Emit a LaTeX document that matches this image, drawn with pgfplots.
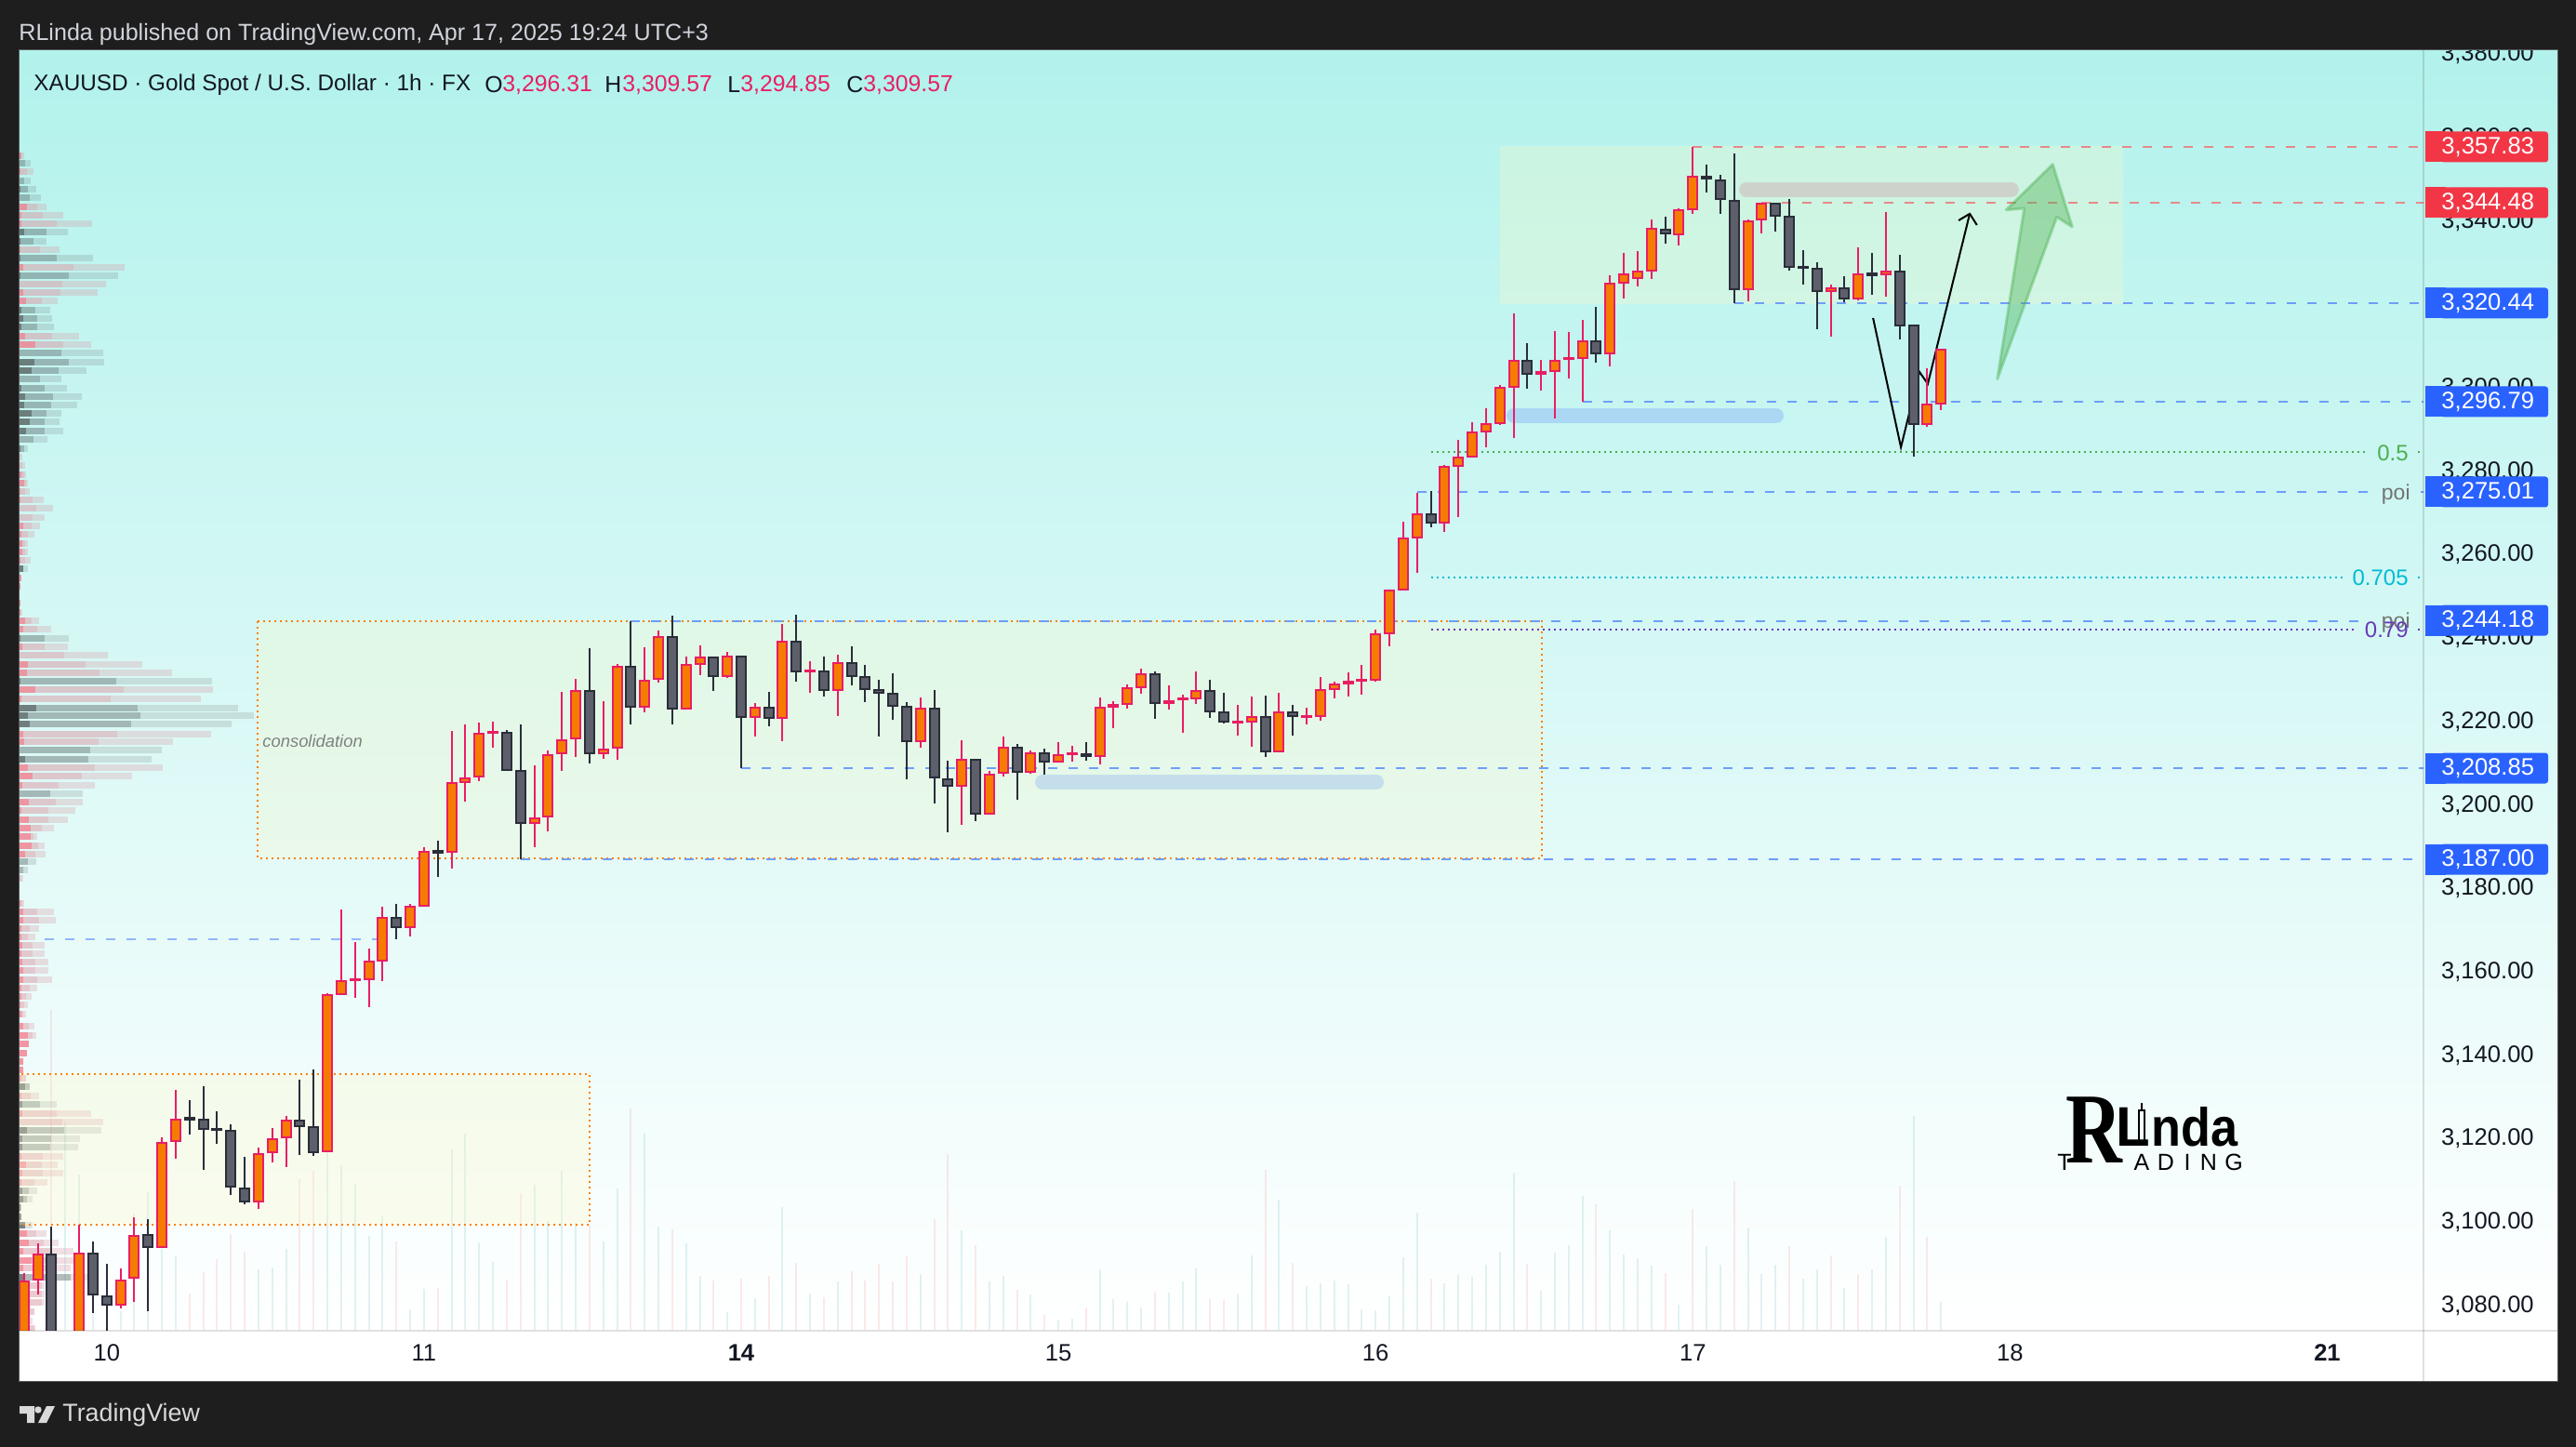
\documentclass[border=0pt]{standalone}
\usepackage{fontspec}
\setmainfont{Liberation Sans}
\newfontfamily\serifR{Liberation Serif}
\usepackage{pgfplots}
\usepackage{pgfplotstable}
\pgfplotsset{compat=1.18}
\definecolor{dark}{HTML}{1E1E1E}
\definecolor{cpink}{HTML}{E91E63}
\definecolor{corange}{HTML}{F57C00}
\definecolor{cgrey}{HTML}{5D606B}
\definecolor{cblack}{HTML}{2A2E39}
\definecolor{tvblue}{HTML}{2962FF}
\definecolor{tvred}{HTML}{F23645}
\definecolor{lblue}{HTML}{6E9EF8}
\definecolor{lred}{HTML}{E58A8A}
\definecolor{txt}{HTML}{131722}
\definecolor{fgreen}{HTML}{4CAF50}
\definecolor{fcyan}{HTML}{00BCD4}
\definecolor{fpurple}{HTML}{673AB7}
\definecolor{prA}{RGB}{255,100,120}
\definecolor{prB}{RGB}{219,154,165}
\definecolor{ptA}{RGB}{65,72,69}
\definecolor{ptB}{RGB}{88,107,108}
\definecolor{ptC}{RGB}{103,105,105}
\newcommand\candle[7]{\pgfmathsetmacro\xa{#1-.337}\pgfmathsetmacro\xb{#1+.337}%
 \addplot[draw=#6,line width=1pt] coordinates {(#1,#4)(#1,#5)};
 \addplot[draw=#6,fill=#7,line width=1pt] coordinates {(\xa,#2)(\xb,#2)(\xb,#3)(\xa,#3)} -- cycle;}
\newcommand\cu[5]{\candle{#1}{#2}{#3}{#4}{#5}{cpink}{corange}}
\newcommand\cd[5]{\candle{#1}{#2}{#3}{#4}{#5}{cblack}{cgrey}}
\pgfplotsset{pane/.style={width=1293pt,height=688pt,scale only axis,at={(10pt,-715pt)},anchor=south west}}
% volume profile: row position (px), widths of the three layers (px)
\pgfplotstableread{
y a b c
167 3 3 6
184 2 9 16
222 9 20 30
231 3 26 48
240 3 41 79
268 2 23 44
287 5 59 114
305 1 47 94
314 5 45 85
323 8 25 42
361 7 36 65
370 18 48 78
491 1 2 4
500 1 4 7
510 3 6 8
519 6 8 10
528 2 7 12
537 2 15 27
546 1 19 37
556 1 15 28
565 5 14 23
574 3 10 17
584 4 7 10
593 4 7 10
602 2 7 13
621 3 3 3
630 2 2 2
639 1 1 1
648 2 2 2
658 2 2 4
667 7 14 22
676 5 20 35
695 4 28 53
704 1 49 96
714 10 72 133
723 9 87 165
741 18 113 209
751 3 99 196
789 5 106 207
797 6 86 166
825 10 82 155
834 15 68 122
844 4 43 82
862 11 40 69
871 3 32 61
881 11 32 53
890 13 25 38
899 13 16 20
909 14 21 28
918 7 18 29
944 1 3 5
971 2 4 6
980 5 20 38
989 5 22 40
998 3 12 22
1007 3 10 18
1016 4 15 28
1025 3 15 28
1034 4 18 32
1043 5 18 32
1053 5 20 36
1062 3 12 20
1071 3 8 14
1080 2 6 10
1090 3 5 8
1103 5 11 17
1113 10 15 19
1122 11 11 11
1132 9 9 9
1141 5 5 5
1150 5 5 5
1159 3 8 8
1178 3 13 22
1197 4 41 78
1206 1 47 91
1243 3 26 48
1252 8 25 42
1261 4 26 48
1271 3 17 31
1326 9 19 30
1336 11 27 43
1345 5 34 59
1355 14 42 62
1363 5 41 56
1382 11 25 28
1391 10 25 28
1400 10 25 28
1410 8 17 17
1420 5 10 15
1428 10 17 18
}\profred
\pgfplotstableread{
y a b c
175 0 7 13
194 0 6 13
203 2 10 19
212 0 12 24
249 6 30 53
259 2 16 30
277 2 41 80
296 2 54 107
333 3 18 34
342 5 20 36
351 3 20 38
379 1 46 91
389 17 54 92
398 14 43 73
407 1 23 46
417 3 28 52
426 7 37 68
435 6 35 63
444 14 30 46
453 12 28 44
463 8 28 48
472 1 16 31
482 2 6 10
611 5 5 10
686 2 28 54
732 2 105 208
761 19 128 236
769 10 131 253
778 12 121 229
806 1 77 154
816 7 75 143
853 1 34 69
926 1 10 19
935 1 5 10
1168 7 12 12
1187 4 23 41
1215 9 49 89
1224 4 35 66
1233 4 34 64
1280 4 11 20
1289 5 9 15
1298 2 3 3
1308 3 3 3
1317 7 7 15
1373 5 56 77
}\profteal
% volume bars: bar index, height (px of pane)
\pgfplotstableread{
i v
-4 344
0 30
6 39
7 62
8 76
9 103
10 84
14 162
15 171
21 95
24 45
29 54
30 147
35 113
38 238
41 108
44 53
46 55
48 58
50 72
52 35
54 63
55 53
56 71
57 52
58 79
60 119
61 189
63 91
66 43
68 16
71 24
76 40
80 33
81 32
84 172
86 72
96 55
103 71
108 135
113 61
115 130
118 160
122 90
125 80
127 60
130 155
132 100
}\volred
\pgfplotstableread{
i v
-3 224
-2 167
-1 17
1 20
2 125
3 148
4 87
5 80
11 65
12 67
13 87
16 193
17 177
18 157
19 101
20 123
22 22
23 44
25 194
26 211
27 94
28 73
31 156
32 117
33 171
34 115
36 95
37 152
39 211
40 111
42 93
43 58
45 19
47 34
49 132
51 39
53 52
59 60
62 107
64 52
65 58
67 38
69 11
70 12
72 65
73 33
74 30
75 24
77 40
78 52
79 66
82 39
83 80
85 140
87 47
88 50
89 53
90 49
91 22
92 21
93 36
94 78
95 126
97 50
98 59
99 57
100 70
101 84
102 169
104 42
105 83
106 91
107 144
109 107
110 81
111 77
112 69
114 27
116 90
117 70
119 110
120 60
121 70
123 55
124 65
126 45
128 65
129 100
131 230
133 30
}\volteal
\begin{document}
\begin{tikzpicture}
\useasboundingbox (0pt,0pt) rectangle (1385pt,-778pt);
\fill[dark] (0pt,0pt) rectangle (1385pt,-778pt);
\shade[top color={rgb,255:red,178;green,242;blue,236},bottom color=white] (10pt,-27pt) rectangle (1375pt,-715pt);
\fill[white] (10pt,-715pt) rectangle (1375pt,-742.5pt);
% volume
\begin{axis}[pane,hide axis,clip=true,xmin=-6.392,xmax=167.98,ymin=0,ymax=1376]
\addplot[ycomb,draw=tvred,opacity=.11,line width=1pt] table[x=i,y=v]{\volred};
\addplot[ycomb,draw=teal,opacity=.11,line width=1pt] table[x=i,y=v]{\volteal};
\end{axis}
% volume profile
\begin{axis}[pane,hide axis,clip=true,xmin=0,xmax=2586,ymin=54,ymax=1430,y dir=reverse]
\addplot[xcomb,draw=prB,opacity=.3,line width=3.5pt] table[x=c,y=y]{\profred};
\addplot[xcomb,draw=prB,opacity=.3,line width=3.5pt] table[x=b,y=y]{\profred};
\addplot[xcomb,draw=prA,opacity=.5,line width=3.5pt] table[x=a,y=y]{\profred};
\addplot[xcomb,draw=ptC,opacity=.18,line width=3.5pt] table[x=c,y=y]{\profteal};
\addplot[xcomb,draw=ptB,opacity=.33,line width=3.5pt] table[x=b,y=y]{\profteal};
\addplot[xcomb,draw=ptA,opacity=.5,line width=3.5pt] table[x=a,y=y]{\profteal};
\end{axis}
% price panel
\begin{axis}[pane,clip=true,
 xmin=-6.392,xmax=167.98,ymin=3074.16,ymax=3381.02,
 axis line style={draw=none},tick style={draw=none},major tick length=0pt,
 xtick={0,23,46,69,92,115,138,161},
 xticklabels={10,11,\textbf{14},15,16,17,18,\textbf{21}},
 xticklabel style={font=\fontsize{12.8pt}{14pt}\selectfont,text=txt,yshift=-4.5pt},
 ytick={3080,3100,...,3380},
 yticklabel pos=right,
 yticklabel style={font=\fontsize{12.8pt}{14pt}\selectfont,text=txt,xshift=6pt,
   /pgf/number format/.cd,fixed,fixed zerofill,precision=2,1000 sep={,},assume math mode=true},
]
% boxes
\addplot[fill={rgb,255:red,255;green,248;blue,197},fill opacity=.28,draw=none] coordinates {(101.02,3358)(146.2,3358)(146.2,3320.2)(101.02,3320.2)} -- cycle;
\addplot[fill={rgb,255:red,255;green,248;blue,197},fill opacity=.28,draw=orange,line width=1pt,dash pattern=on 1pt off 2pt] coordinates {(10.94,3244.1)(104.06,3244.1)(104.06,3187.2)(10.94,3187.2)} -- cycle;
\addplot[fill={rgb,255:red,255;green,248;blue,197},fill opacity=.28,draw=orange,line width=1pt,dash pattern=on 1pt off 2pt] coordinates {(-7,3135.49)(35,3135.49)(35,3099.35)(-7,3099.35)} -- cycle;
% level lines
\addplot[draw=lred,line width=1pt,dash pattern=on 5pt off 6pt] coordinates {(115,3357.83)(168,3357.83)};
\addplot[draw=lred,line width=1pt,dash pattern=on 5pt off 6pt] coordinates {(120,3344.48)(168,3344.48)};
\addplot[draw=lblue,line width=1pt,dash pattern=on 5pt off 6pt] coordinates {(118,3320.44)(168,3320.44)};
\addplot[draw=lblue,line width=1pt,dash pattern=on 5pt off 6pt] coordinates {(107,3296.79)(168,3296.79)};
\addplot[draw=lblue,line width=1pt,dash pattern=on 5pt off 6pt] coordinates {(95,3275.01)(164,3275.01)};
\addplot[draw=lblue,line width=1pt] coordinates {(167.8,3275.01)(168,3275.01)};
\addplot[draw=lblue,line width=1pt,dash pattern=on 5pt off 6pt] coordinates {(38,3244.18)(164,3244.18)};
\addplot[draw=lblue,line width=1pt,dash pattern=on 5pt off 6pt] coordinates {(46,3208.85)(168,3208.85)};
\addplot[draw=lblue,line width=1pt,dash pattern=on 5pt off 6pt] coordinates {(30,3187)(168,3187)};
\addplot[draw=lblue!75!white,line width=1pt,dash pattern=on 5pt off 6pt] coordinates {(-4.5,3167.8)(20,3167.8)};
\addplot[draw=fgreen,line width=1pt,dash pattern=on 1pt off 2pt] coordinates {(96,3284.68)(163.7,3284.68)};
\addplot[draw=fgreen,line width=1pt,dash pattern=on 1pt off 2pt] coordinates {(167.6,3284.68)(168,3284.68)};
\addplot[draw=fcyan,line width=1pt,dash pattern=on 1pt off 2pt] coordinates {(96,3254.57)(162.1,3254.57)};
\addplot[draw=fcyan,line width=1pt,dash pattern=on 1pt off 2pt] coordinates {(167.6,3254.57)(168,3254.57)};
\addplot[draw=fpurple,line width=1pt,dash pattern=on 1pt off 2pt] coordinates {(96,3242.09)(163,3242.09)};
\addplot[draw=fpurple,line width=1pt,dash pattern=on 1pt off 2pt] coordinates {(167.6,3242.09)(168,3242.09)};
% pills
\addplot[draw={rgb,255:red,205;green,211;blue,203},line width=8pt,line cap=round] coordinates {(118.9,3347.57)(138.1,3347.57)};
\addplot[draw={rgb,255:red,171;green,215;blue,245},line width=8pt,line cap=round] coordinates {(102.03,3293.38)(121.05,3293.38)};
\addplot[draw={rgb,255:red,196;green,223;blue,235},line width=8pt,line cap=round] coordinates {(67.85,3205.5)(92.06,3205.5)};
% drawn path
\addplot[draw=black,line width=1pt] coordinates {(128.07,3316.8)(130.09,3285.8)(131.43,3303.9)(132.04,3301)(135.08,3341.8)};
\addplot[draw=black,line width=1pt] coordinates {(134.27,3340.2)(135.08,3341.8)(135.6,3339.1)};
% candles: index, body low, body high, low, high
\cu{-6}{3070}{3085.8}{3068}{3087.8}
\cu{-5}{3086.2}{3092.2}{3082.6}{3094.9}
\cd{-4}{3070}{3092.2}{3068}{3099}
\cu{-2}{3070}{3092.5}{3068}{3099.4}
\cd{-1}{3082.7}{3092.5}{3078.2}{3095.4}
\cd{0}{3080.2}{3082.2}{3070}{3090}
\cu{1}{3080.2}{3086}{3079.3}{3088.9}
\cu{2}{3086.7}{3096.7}{3080.9}{3101.2}
\cd{3}{3094}{3097}{3078.6}{3100.7}
\cu{4}{3094}{3119}{3094}{3120.4}
\cu{5}{3119.5}{3124.6}{3115.2}{3131.7}
\cd{6}{3124.6}{3124.9}{3121}{3129.3}
\cd{7}{3122.4}{3124.6}{3112.6}{3132.6}
\cd{8}{3122.2}{3122.4}{3118.8}{3126.6}
\cd{9}{3108.5}{3121.9}{3106.5}{3123.5}
\cd{10}{3105}{3108.1}{3104.3}{3115.7}
\cu{11}{3105}{3116.3}{3103.2}{3117.9}
\cu{12}{3116.8}{3119.9}{3114.3}{3122.6}
\cu{13}{3120.4}{3124.4}{3113.2}{3125.5}
\cd{14}{3123}{3124.4}{3116.1}{3134.2}
\cd{15}{3116.8}{3122.8}{3115.9}{3136.6}
\cu{16}{3117}{3154.5}{3117}{3154.9}
\cu{17}{3154.7}{3157.8}{3154.7}{3175}
\cu{18}{3158}{3158.3}{3153.8}{3167.2}
\cu{19}{3158.3}{3162.5}{3151.6}{3165.6}
\cu{20}{3162.7}{3173}{3157.8}{3175.7}
\cd{21}{3170.8}{3173}{3167.9}{3176.3}
\cu{22}{3170.8}{3175.7}{3168.5}{3176.3}
\cu{23}{3175.9}{3188.8}{3175.9}{3189.9}
\cd{24}{3188.6}{3189}{3182.8}{3191.5}
\cu{25}{3188.8}{3205.3}{3184.8}{3217.8}
\cu{26}{3205.6}{3206.4}{3200.9}{3219.4}
\cu{27}{3206.9}{3217.2}{3205.8}{3219.8}
\cu{28}{3217.3}{3217.6}{3213.8}{3220}
\cd{29}{3208.4}{3217.4}{3208.4}{3218}
\cd{30}{3195.7}{3208.2}{3187}{3219.4}
\cu{31}{3195.7}{3196.9}{3189.9}{3209.5}
\cu{32}{3197.3}{3212}{3193.7}{3213.1}
\cu{33}{3212.5}{3215.6}{3208.2}{3227.2}
\cu{34}{3216}{3227.4}{3211.6}{3230.3}
\cd{35}{3212.5}{3227.4}{3210}{3237.7}
\cu{36}{3212.5}{3213.4}{3211.1}{3225}
\cu{37}{3213.8}{3233.2}{3210.9}{3233.9}
\cd{38}{3223.6}{3233.2}{3219.4}{3244.1}
\cu{39}{3223.6}{3229.9}{3222.3}{3237.9}
\cu{40}{3230.3}{3240.3}{3229.4}{3241.9}
\cd{41}{3223.2}{3240.3}{3219.4}{3245.5}
\cu{42}{3223.2}{3233.7}{3223.2}{3235.7}
\cu{43}{3233.9}{3235.4}{3231.2}{3238.3}
\cd{44}{3231}{3235.4}{3227.4}{3235.7}
\cu{45}{3231}{3235.7}{3230.5}{3236.8}
\cd{46}{3221.2}{3235.7}{3208.9}{3235.9}
\cu{47}{3221.2}{3223.4}{3216.5}{3224.5}
\cd{48}{3220.9}{3223.4}{3218.9}{3227.2}
\cu{49}{3220.9}{3239.2}{3215.4}{3243.5}
\cd{50}{3232.1}{3239.2}{3229.6}{3245.7}
\cu{51}{3232}{3232.3}{3227}{3234.5}
\cd{52}{3227.6}{3232.1}{3226.1}{3235.7}
\cu{53}{3227.6}{3234.1}{3221.4}{3236.1}
\cd{54}{3231}{3234.1}{3228.7}{3238.1}
\cd{55}{3227.9}{3230.8}{3224.7}{3233.7}
\cd{56}{3227}{3227.6}{3216.5}{3230.1}
\cd{57}{3223.8}{3226.7}{3220.5}{3231.6}
\cd{58}{3215.4}{3223.6}{3206.2}{3224.7}
\cu{59}{3215.4}{3223.2}{3213.8}{3225.8}
\cd{60}{3206.6}{3223.2}{3200.4}{3227.6}
\cd{61}{3204.6}{3206.2}{3193.5}{3210.7}
\cu{62}{3204.6}{3210.9}{3195.3}{3215.6}
\cd{63}{3198}{3210.9}{3196.2}{3211.1}
\cu{64}{3198}{3207.3}{3198}{3208.2}
\cu{65}{3207.8}{3213.8}{3206.9}{3216.5}
\cd{66}{3208}{3213.8}{3201.3}{3214.7}
\cu{67}{3208}{3212.5}{3207.5}{3213.1}
\cd{68}{3210.5}{3212.5}{3207.3}{3213.6}
\cu{69}{3210.5}{3212}{3210.5}{3215.1}
\cu{70}{3212.2}{3212.5}{3210.4}{3214.2}
\cd{71}{3211.8}{3212.2}{3210.7}{3215.1}
\cu{72}{3211.8}{3223.4}{3209.8}{3225.8}
\cu{73}{3223.6}{3224.1}{3218.5}{3225}
\cu{74}{3224.3}{3228.1}{3223.2}{3229}
\cu{75}{3228.3}{3231.4}{3226.7}{3232.8}
\cd{76}{3224.5}{3231.4}{3220.7}{3232.1}
\cu{77}{3224.5}{3225}{3223}{3228.7}
\cu{78}{3225.3}{3225.6}{3217.4}{3226.5}
\cu{79}{3225.6}{3227.4}{3224.3}{3232.1}
\cd{80}{3222.5}{3227.4}{3220.9}{3230.1}
\cd{81}{3220}{3222.3}{3219.6}{3226.9}
\cu{82}{3219.7}{3220}{3216.7}{3224.1}
\cu{83}{3220}{3221.2}{3214}{3226.1}
\cd{84}{3212.9}{3221.2}{3211.6}{3226.3}
\cu{85}{3212.9}{3222.3}{3212.9}{3226.9}
\cd{86}{3221.4}{3222.3}{3216.7}{3224.1}
\cu{87}{3221.1}{3221.4}{3219.4}{3223.4}
\cu{88}{3221.4}{3227.6}{3220.2}{3230.8}
\cu{89}{3227.9}{3229}{3225.6}{3229.6}
\cu{90}{3229.2}{3229.6}{3226.1}{3231.9}
\cu{91}{3229.8}{3230.1}{3226.5}{3233.7}
\cu{92}{3230.1}{3241}{3229.6}{3242.1}
\cu{93}{3241.2}{3251.5}{3238.1}{3251.7}
\cu{94}{3251.7}{3264}{3251.7}{3268}
\cu{95}{3264.2}{3269.8}{3255.7}{3274.9}
\cd{96}{3267.8}{3269.8}{3266.6}{3275.4}
\cu{97}{3267.8}{3281.2}{3265.5}{3281.6}
\cu{98}{3281.4}{3283.4}{3269.1}{3287.6}
\cu{99}{3283.6}{3289.4}{3283.6}{3291.9}
\cu{100}{3289.6}{3291.4}{3285.8}{3295.2}
\cu{101}{3291.6}{3300.1}{3291.2}{3300.8}
\cu{102}{3300.3}{3306.6}{3288.1}{3317.9}
\cd{103}{3303.4}{3306.6}{3299.9}{3310.8}
\cu{104}{3303.4}{3303.9}{3299.4}{3306.8}
\cu{105}{3304.1}{3306.6}{3292.7}{3313.7}
\cu{106}{3306.9}{3307.2}{3302.3}{3313.5}
\cu{107}{3307.2}{3311.2}{3296.8}{3316.4}
\cd{108}{3308.4}{3311.2}{3306.1}{3319.5}
\cu{109}{3308.4}{3325.1}{3305.2}{3327.1}
\cu{110}{3325.3}{3327.3}{3321.5}{3332.4}
\cu{111}{3326.4}{3328}{3324.4}{3332.9}
\cu{112}{3328.2}{3338.2}{3326.2}{3340.5}
\cd{113}{3337.1}{3338}{3334.7}{3341.1}
\cu{114}{3336.9}{3342.7}{3334.2}{3343.1}
\cu{115}{3342.9}{3350.7}{3341.8}{3357.8}
\cd{116}{3350.3}{3350.7}{3346.9}{3353.6}
\cd{117}{3345.4}{3349.8}{3341.8}{3351.2}
\cd{118}{3323.7}{3344.9}{3320.4}{3356.3}
\cu{119}{3323.7}{3340}{3320.8}{3340.5}
\cu{120}{3340.5}{3344.3}{3337.1}{3344.5}
\cd{121}{3341.3}{3344.3}{3337.6}{3344.5}
\cd{122}{3329.1}{3341.1}{3328.2}{3345.4}
\cd{123}{3328.8}{3329.1}{3324.9}{3333.1}
\cd{124}{3323.3}{3328.6}{3314.1}{3330.2}
\cu{125}{3323.3}{3323.9}{3312.4}{3324.9}
\cd{126}{3321.5}{3323.9}{3320.6}{3326.8}
\cu{127}{3321.5}{3327.3}{3321}{3333.7}
\cd{128}{3327.1}{3327.5}{3322.4}{3332.4}
\cu{129}{3327.3}{3328}{3321.9}{3342.2}
\cd{130}{3315}{3328}{3311.7}{3332}
\cd{131}{3291.4}{3315}{3283.6}{3315.2}
\cu{132}{3291.4}{3296.1}{3290.7}{3304.8}
\cu{133}{3296.3}{3309.3}{3294.8}{3309.5}
\end{axis}
\begin{scope}[x=.5pt,y=-.5pt,font=\fontsize{12.8pt}{14pt}\selectfont]
% green arrow
\draw[draw=fgreen,fill=fgreen,opacity=.4,line width=1.5pt,line join=round]
 (2207.3,176.7)--(2157.3,225.7)--(2176.7,224)--(2147.7,407.7)--(2211.7,233.3)--(2228.3,244)--cycle;
% separators
\draw[black,opacity=.12,line width=1pt] (2606,54)--(2606,1485);
\draw[black,opacity=.12,line width=1pt] (20,1431)--(2750,1431);
% fib and poi labels
\node[text=fgreen,anchor=east,inner sep=0pt,font=\fontsize{12pt}{13pt}\selectfont] at (2590,487) {0.5};
\node[text=gray!90!black,anchor=east,inner sep=0pt,font=\fontsize{11.5pt}{13pt}\selectfont] at (2592,532) {poi};
\node[text=fcyan,anchor=east,inner sep=0pt,font=\fontsize{12pt}{13pt}\selectfont] at (2590,621) {0.705};
\node[text=gray!90!black,anchor=east,inner sep=0pt,font=\fontsize{11.5pt}{13pt}\selectfont] at (2592,670) {poi};
\node[text=fpurple,anchor=east,inner sep=0pt,font=\fontsize{12pt}{13pt}\selectfont] at (2590,677) {0.79};
\node[text=gray,anchor=west,inner sep=0pt,font=\fontsize{9.2pt}{11pt}\itshape] at (282,797) {consolidation};
% price tags
\foreach \yy/\col/\lab in {158/tvred/{3,357.83},218/tvred/{3,344.48},326/tvblue/{3,320.44},432/tvblue/{3,296.79},529/tvblue/{3,275.01},667/tvblue/{3,244.18},826/tvblue/{3,208.85},924/tvblue/{3,187.00}}{
 \fill[\col,rounded corners=1.5pt] (2625,\yy-16.5) rectangle (2740,\yy+16.5);
 \fill[\col] (2608,\yy-16.5) rectangle (2630,\yy+16.5);
 \node[text=white,anchor=west,inner sep=0pt] at (2625,\yy) {\lab};
}
% logo
\node[anchor=base,inner sep=0pt,font=\serifR\bfseries\fontsize{54pt}{55pt}\selectfont] at (2252,1250) {\scalebox{.78}[1]{R}};
\node[anchor=base west,inner sep=0pt,font=\bfseries\fontsize{30pt}{30pt}\selectfont] at (2275,1232) {L};
\draw[black,line width=.8pt,fill=none] (2300,1194) rectangle (2306,1228);
\draw[black,line width=.8pt] (2303,1186)--(2303,1194) (2303,1228)--(2303,1232);
\node[anchor=base west,inner sep=0pt,font=\bfseries\fontsize{29pt}{30pt}\selectfont] at (2313,1232) {\scalebox{.9}[1]{nda}};
\foreach \xx/\ll in {2220/T,2303/A,2329/D,2352/I,2375/N,2402/G}{
 \node[anchor=base,inner sep=0pt,font=\fontsize{12.5pt}{14pt}\selectfont] at (\xx,1258) {\ll};
}
% dark frame
\fill[dark] (0,0) rectangle (2770,54);
\fill[dark] (0,0) rectangle (20,1556);
\fill[dark] (2750,0) rectangle (2770,1556);
\fill[dark] (0,1485) rectangle (2770,1556);
\draw[gray!70!black,line width=.5pt] (20,54) rectangle (2750,1485);
% header and legend
\node[text={rgb,255:red,209;green,212;blue,220},anchor=west,inner sep=0pt,font=\fontsize{12.55pt}{14pt}\selectfont] at (20,37) {RLinda published on TradingView.com, Apr 17, 2025 19:24 UTC+3};
\node[text=txt,anchor=west,inner sep=0pt,font=\fontsize{12.15pt}{14pt}\selectfont] at (36,91) {XAUUSD · Gold Spot / U.S. Dollar · 1h · FX};
\node[text=txt,anchor=west,inner sep=0pt,font=\fontsize{12.4pt}{14pt}\selectfont] at (521,91) {O};
\node[text=cpink,anchor=west,inner sep=0pt,font=\fontsize{12.4pt}{14pt}\selectfont] at (540,91) {3,296.31};
\node[text=txt,anchor=west,inner sep=0pt,font=\fontsize{12.4pt}{14pt}\selectfont] at (650,91) {H};
\node[text=cpink,anchor=west,inner sep=0pt,font=\fontsize{12.4pt}{14pt}\selectfont] at (669,91) {3,309.57};
\node[text=txt,anchor=west,inner sep=0pt,font=\fontsize{12.4pt}{14pt}\selectfont] at (782,91) {L};
\node[text=cpink,anchor=west,inner sep=0pt,font=\fontsize{12.4pt}{14pt}\selectfont] at (796,91) {3,294.85};
\node[text=txt,anchor=west,inner sep=0pt,font=\fontsize{12.4pt}{14pt}\selectfont] at (910,91) {C};
\node[text=cpink,anchor=west,inner sep=0pt,font=\fontsize{12.4pt}{14pt}\selectfont] at (928,91) {3,309.57};
% footer
\fill[white!85!black] (21,1512)--(37,1512)--(37,1530)--(29,1530)--(29,1520)--(21,1520)--cycle;
\fill[white!85!black] (41,1516) circle (3.7);
\fill[white!85!black] (50,1512)--(59,1512)--(50,1530)--(41,1530)--cycle;
\node[text=white!85!black,anchor=west,inner sep=0pt,font=\fontsize{13.4pt}{15pt}\selectfont] at (67,1522) {TradingView};
\end{scope}
\end{tikzpicture}
\end{document}
